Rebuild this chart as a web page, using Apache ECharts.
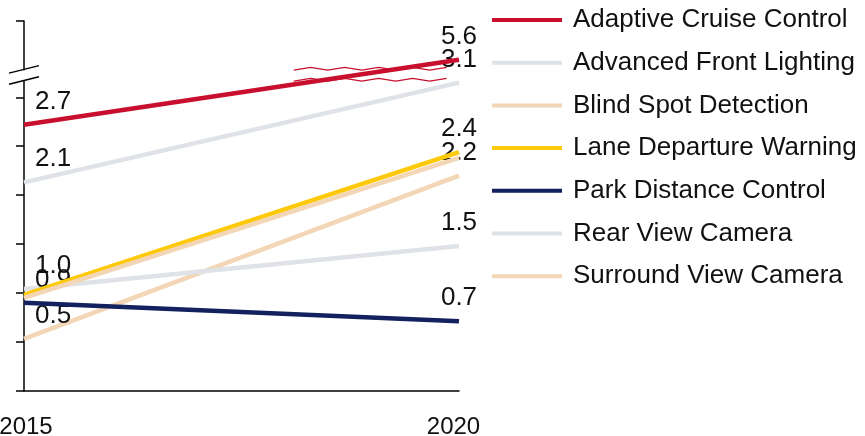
<!DOCTYPE html>
<html>
<head>
<meta charset="utf-8">
<script src="https://cdn.jsdelivr.net/npm/echarts@6/dist/echarts.min.js"></script>
<style>
html,body{margin:0;padding:0;background:#fff;}
#c{width:865px;height:436px;}
</style>
</head>
<body>
<div id="c"></div>
<script>
var categories = ['2015', '2020'];
var seriesNames = ['Adaptive Cruise Control', 'Advanced Front Lighting', 'Blind Spot Detection', 'Lane Departure Warning', 'Park Distance Control', 'Rear View Camera', 'Surround View Camera'];
var acc = [2.72, 5.6];
var afl = [2.13, 3.15];
var bsd = [0.95, 2.38];
var ldw = [0.98, 2.44];
var pdc = [0.9, 0.71];
var rvc = [1.04, 1.48];
var svc = [0.53, 2.2];
var seriesValues = [acc, afl, bsd, ldw, pdc, rvc, svc];
// which value labels are visible [2015, 2020]
var labelShown = [[true, true], [true, true], [false, false], [false, true], [true, true], [true, true], [true, true]];
var colors = ['#c8102e', '#dfe3e7', '#f2d6b5', '#ffc90b', '#13215e', '#dfe3e7', '#f2d6b5'];
var yTicks = [0, 0.5, 1, 1.5, 2, 2.5, 3, 6];
var yBreak = {start: 3.17, end: 5.5, gap: 0.113};

var FONT = '"Liberation Sans", Arial, sans-serif';
var chart = echarts.init(document.getElementById('c'), null, {renderer: 'canvas'});

var series = seriesNames.map(function (name, i) {
  return {
    name: name,
    type: 'line',
    symbol: 'circle',
    symbolSize: 0.1,
    showSymbol: true,
    z: 2 + (seriesNames.length - i),
    lineStyle: {color: colors[i], width: 4.5},
    itemStyle: {color: colors[i]},
    data: seriesValues[i].map(function (v, j) {
      return {
        value: v,
        label: {
          show: labelShown[i][j],
          position: 'top',
          distance: 10,
          align: j === 0 ? 'left' : 'center',
          offset: j === 0 ? [11, 0] : [0, 0],
          formatter: function (p) { return (+p.value).toFixed(1); },
          color: '#111',
          fontSize: 26,
          fontFamily: FONT
        }
      };
    })
  };
});

chart.setOption({
  animation: false,
  backgroundColor: '#fff',
  grid: {left: 24, right: 406, top: 20.7, bottom: 45.3, containLabel: false, outerBoundsMode: 'none'},
  legend: {
    orient: 'vertical',
    left: 492,
    top: 6,
    padding: 0,
    itemWidth: 70,
    itemHeight: 4,
    itemGap: 14.7,
    data: seriesNames.map(function (n, i) {
      return {name: n, icon: 'path://M0,0H70V4H0Z', itemStyle: {color: colors[i]}};
    }),
    textStyle: {fontSize: 26, fontFamily: FONT, color: '#111', padding: [0, 0, 0, 6], lineHeight: 28},
    selectedMode: false
  },
  xAxis: {
    type: 'category',
    data: categories,
    boundaryGap: false,
    axisLine: {lineStyle: {color: '#000', width: 1.5}},
    axisTick: {show: false},
    axisLabel: {
      fontSize: 24, fontFamily: FONT, color: '#111', margin: 25,
      formatter: function (v, idx) { return idx === 0 ? '{a|' + v + '}' : '{b|' + v + '}'; },
      rich: {
        a: {fontSize: 24, fontFamily: FONT, color: '#111', padding: [0, 0, 0, 4]},
        b: {fontSize: 24, fontFamily: FONT, color: '#111', padding: [0, 11, 0, 0]}
      }
    }
  },
  yAxis: {
    type: 'value',
    min: 0,
    max: 6,
    interval: 0.5,
    breaks: [yBreak],
    breakArea: {show: false},
    axisLine: {show: true, lineStyle: {color: '#000', width: 1.5}},
    axisTick: {show: true, length: 8, customValues: yTicks, lineStyle: {color: '#000', width: 1.5}},
    axisLabel: {show: false, customValues: yTicks},
    splitLine: {show: false}
  },
  series: series
});

// axis-break decoration, positioned from the axis scale
(function () {
  var yLo = chart.convertToPixel({yAxisIndex: 0}, yBreak.start);
  var yHi = chart.convertToPixel({yAxisIndex: 0}, yBreak.end);
  var x0 = chart.convertToPixel({xAxisIndex: 0}, categories[0]);
  var x1 = chart.convertToPixel({xAxisIndex: 0}, categories[1]);
  var els = [];
  // gap in the axis line
  els.push({type: 'rect', shape: {x: x0 - 2, y: yHi + 1, width: 4, height: yLo - yHi - 2}, style: {fill: '#fff'}, z: 100});
  [yHi, yLo].forEach(function (yy) {
    els.push({type: 'line', shape: {x1: x0 - 15, y1: yy + 3.5, x2: x0 + 15, y2: yy - 4}, style: {stroke: '#000', lineWidth: 1.5}, z: 101});
  });
  // partial zigzag break lines across the plot
  var zx0 = x0 + (x1 - x0) * 0.62, zx1 = x0 + (x1 - x0) * 0.98;
  [yHi, yLo].forEach(function (yy) {
    var pts = [];
    var n = 0;
    for (var x = zx0; x <= zx1 + 0.1; x += 17) {
      pts.push([x, yy + (n % 2 === 0 ? 0.5 : -2.2)]);
      n++;
    }
    els.push({type: 'polyline', shape: {points: pts}, style: {stroke: '#c8102e', lineWidth: 1.2, fill: null}, z: 100});
  });
  chart.setOption({graphic: {elements: els}});
})();
</script>
</body>
</html>
